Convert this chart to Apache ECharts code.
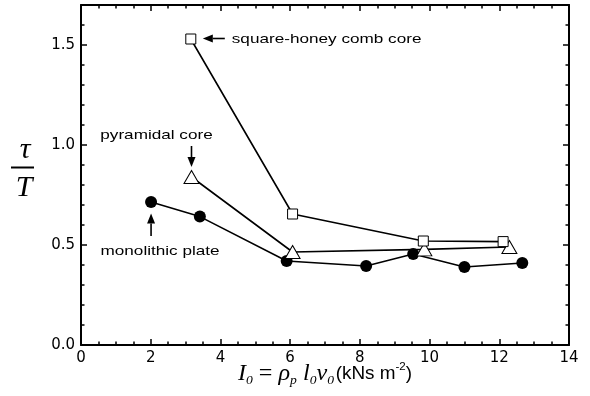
<!DOCTYPE html>
<html>
<head>
<meta charset="utf-8">
<script src="https://cdn.jsdelivr.net/npm/echarts@6/dist/echarts.min.js"></script>
<style>
  html, body { margin: 0; padding: 0; background: #fff; }
  #chart { width: 590px; height: 396px; }
</style>
</head>
<body>
<div id="chart"></div>
<script>
// Impulse I0 (kNs m^-2) against normalised response time tau/T
const squareHoneycomb = [[3.15, 1.53], [6.07, 0.655], [9.82, 0.52], [12.11, 0.517]];
const pyramidalCore   = [[3.17, 0.84], [6.07, 0.465], [9.85, 0.478], [12.29, 0.49]];
const monolithicPlate = [[2.01, 0.715], [3.41, 0.642], [5.90, 0.42], [8.18, 0.395],
                         [9.53, 0.455], [11.00, 0.39], [12.66, 0.41]];

const xRange = [0, 14];
const yRange = [0, 1.7];

const seriesNames = ['monolithic plate', 'pyramidal core', 'square-honey comb core'];

const labelFont = 'Liberation Sans, Arial, sans-serif';
const serifFont = 'Liberation Serif, Times New Roman, serif';

const chart = echarts.init(document.getElementById('chart'), null, { renderer: 'canvas' });

function xAxisDef(pos, labels) {
  return {
    type: 'value', position: pos, min: xRange[0], max: xRange[1], interval: 2,
    axisLine: { show: true, onZero: false, lineStyle: { color: '#000', width: 2 } },
    axisTick: { show: true, inside: true, length: 6, lineStyle: { color: '#000', width: 1.5 } },
    minorTick: { show: true, splitNumber: 4, length: 3.5, lineStyle: { color: '#000', width: 1.5 } },
    splitLine: { show: false },
    axisLabel: { show: labels, color: '#000', fontFamily: 'DejaVu Sans, sans-serif', fontSize: 15, margin: 6 }
  };
}
function yAxisDef(pos, step, tickLen, line, labels) {
  return {
    type: 'value', position: pos, min: yRange[0], max: yRange[1], interval: step,
    axisLine: { show: line, onZero: false, lineStyle: { color: '#000', width: 2 } },
    axisTick: { show: true, inside: true, length: tickLen, lineStyle: { color: '#000', width: 1.5 } },
    splitLine: { show: false },
    axisLabel: {
      show: labels, showMaxLabel: false, color: '#000', fontFamily: 'DejaVu Sans, sans-serif',
      fontSize: 15, margin: 6, formatter: v => v.toFixed(1)
    }
  };
}

const lineStyle = { color: '#000', width: 1.6 };

chart.setOption({
  animation: false,
  backgroundColor: '#fff',
  grid: { left: 81, right: 21, top: 5, bottom: 51, containLabel: false },
  xAxis: [xAxisDef('bottom', true), xAxisDef('top', false)],
  yAxis: [
    yAxisDef('left', 0.5, 6, true, true),
    yAxisDef('left', 0.1, 3.5, false, false),
    yAxisDef('right', 0.5, 6, true, false),
    yAxisDef('right', 0.1, 3.5, false, false)
  ],
  series: [
    {
      name: seriesNames[0], type: 'line', data: monolithicPlate, z: 2,
      symbol: 'circle', symbolSize: 12, showAllSymbol: true,
      lineStyle, itemStyle: { color: '#000', borderColor: '#000', borderWidth: 0 }
    },
    {
      name: seriesNames[1], type: 'line', data: pyramidalCore, z: 3,
      symbol: 'triangle', symbolSize: [15, 13], showAllSymbol: true,
      lineStyle, itemStyle: { color: '#fff', borderColor: '#000', borderWidth: 1 }
    },
    {
      name: seriesNames[2], type: 'line', data: squareHoneycomb, z: 4,
      symbol: 'rect', symbolSize: 10, showAllSymbol: true,
      lineStyle, itemStyle: { color: '#fff', borderColor: '#000', borderWidth: 1 }
    }
  ]
});

// Annotation arrows and labels, anchored to the first point of each series
const px = p => chart.convertToPixel({ gridIndex: 0 }, p);
const sq = px(squareHoneycomb[0]);
const tri = px(pyramidalCore[0]);
const cir = px(monolithicPlate[0]);

function arrow(x1, y1, x2, y2) {
  // shaft from (x1,y1) to tip (x2,y2) with filled head
  const dx = x2 - x1, dy = y2 - y1, len = Math.hypot(dx, dy);
  const ux = dx / len, uy = dy / len, hl = 10, hw = 4;
  const bx = x2 - ux * hl, by = y2 - uy * hl;
  return [
    { type: 'line', shape: { x1, y1, x2: bx, y2: by }, style: { stroke: '#000', lineWidth: 1.6 }, z: 10 },
    { type: 'polygon', shape: { points: [[x2, y2], [bx - uy * hw, by + ux * hw], [bx + uy * hw, by - ux * hw]] },
      style: { fill: '#000' }, z: 10 }
  ];
}
function note(text, x, y, align) {
  return {
    type: 'text', x, y, scaleX: 1.27, z: 10,
    style: { text, fill: '#000', font: '13.5px ' + labelFont, align, verticalAlign: 'middle' }
  };
}

const graphics = [
  ...arrow(sq[0] + 34, sq[1] - 0.5, sq[0] + 12, sq[1] - 0.5),
  note(seriesNames[2], sq[0] + 41, sq[1], 'left'),
  ...arrow(tri[0], tri[1] - 31, tri[0], tri[1] - 10),
  note(seriesNames[1], tri[0] - 35, tri[1] - 41.5, 'center'),
  ...arrow(cir[0], cir[1] + 34, cir[0], cir[1] + 11.5),
  note(seriesNames[0], cir[0] + 9, cir[1] + 49, 'center'),
  // y axis title: tau over T
  { type: 'text', x: 25, y: 150, z: 10,
    style: { text: 'τ', fill: '#000', font: 'italic 30px ' + serifFont, align: 'center', verticalAlign: 'middle' } },
  { type: 'line', shape: { x1: 11, y1: 167.5, x2: 34, y2: 167.5 }, style: { stroke: '#000', lineWidth: 2 }, z: 10 },
  { type: 'text', x: 24, y: 188, z: 10,
    style: { text: 'T', fill: '#000', font: 'italic 30px ' + serifFont, align: 'center', verticalAlign: 'middle' } },
  // x axis title
  { type: 'text', x: 325, y: 374, scaleX: 1.05, z: 10,
    style: {
      text: '{it|I}{sub|0}{eq| = }{it|ρ}{sub|p}{it| l}{sub|0}{it|v}{sub|0}{sp| }{sans|(kNs m}{sup|-2}{sans|)}',
      align: 'center', verticalAlign: 'middle', fill: '#000',
      rich: {
        it: { fontFamily: serifFont, fontStyle: 'italic', fontSize: 23, lineHeight: 26, verticalAlign: 'middle' },
        sub: { fontFamily: serifFont, fontStyle: 'italic', fontSize: 13, lineHeight: 13, verticalAlign: 'bottom' },
        eq: { fontFamily: serifFont, fontSize: 23, lineHeight: 26, verticalAlign: 'middle' },
        sp: { fontFamily: serifFont, fontSize: 6, lineHeight: 26, verticalAlign: 'middle' },
        sans: { fontFamily: labelFont, fontSize: 18, lineHeight: 26, verticalAlign: 'middle' },
        sup: { fontFamily: labelFont, fontSize: 11, lineHeight: 11, verticalAlign: 'top' }
      }
    } }
];
chart.setOption({ graphic: graphics });
</script>
</body>
</html>
